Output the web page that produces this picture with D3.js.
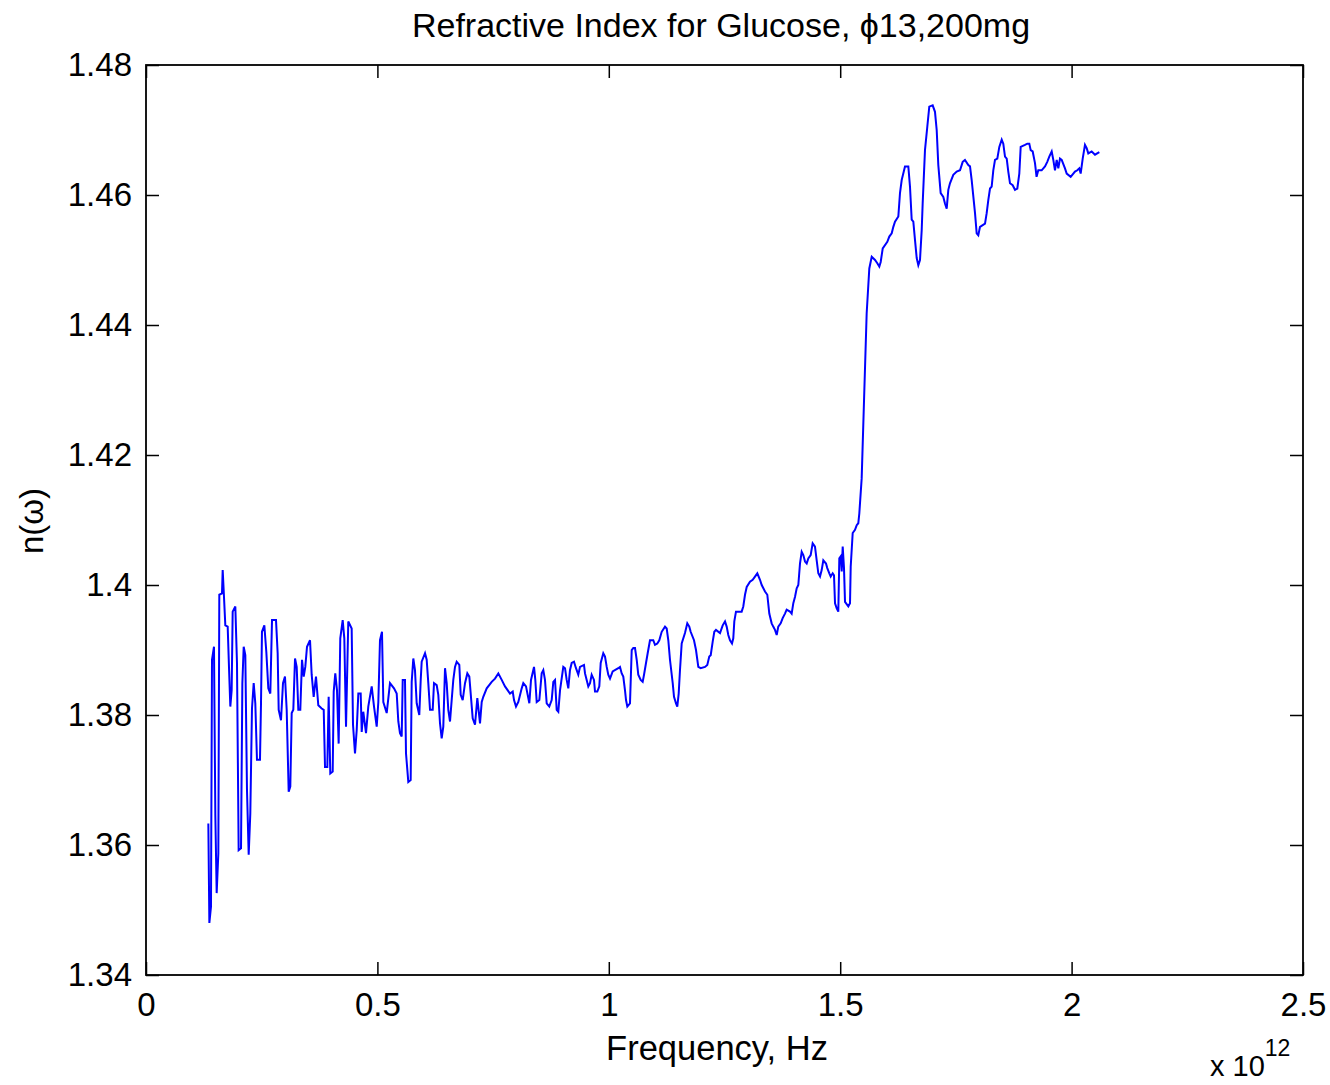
<!DOCTYPE html>
<html>
<head>
<meta charset="utf-8">
<script src="https://cdn.jsdelivr.net/npm/d3@7/dist/d3.min.js"></script>
<style>
  html, body { margin: 0; padding: 0; background: #ffffff; }
  svg { display: block; }
  text { font-family: "Liberation Sans", Arial, Helvetica, sans-serif; fill: #000; }
</style>
</head>
<body>
<svg id="chart" width="1330" height="1085"></svg>
<script>
// ---- Data (frequency in units of 1e12 Hz, refractive index n) ----
const freq = [
  0.1347,0.1369,0.1404,0.1426,0.1469,0.1498,0.1527,0.1563,0.1584,0.1642,
  0.1657,0.1685,0.1714,0.1765,0.1793,0.1822,0.1851,0.1873,0.1930,0.1966,
  0.2002,0.2053,0.2082,0.2111,0.2146,0.2182,0.2219,0.2254,0.2290,0.2327,
  0.2362,0.2398,0.2463,0.2485,0.2506,0.2557,0.2600,0.2643,0.2686,0.2723,
  0.2809,0.2845,0.2867,0.2917,0.2960,0.3003,0.3040,0.3083,0.3118,0.3148,
  0.3183,0.3220,0.3256,0.3291,0.3334,0.3371,0.3408,0.3442,0.3479,0.3544,
  0.3580,0.3623,0.3673,0.3723,0.3796,0.3840,0.3868,0.3918,0.3947,0.3982,
  0.4034,0.4056,0.4090,0.4127,0.4163,0.4198,0.4250,0.4285,0.4322,0.4371,
  0.4444,0.4473,0.4516,0.4553,0.4588,0.4639,0.4661,0.4695,0.4754,0.4803,
  0.4877,0.4927,0.4985,0.5020,0.5056,0.5099,0.5128,0.5201,0.5272,0.5359,
  0.5417,0.5452,0.5488,0.5525,0.5547,0.5596,0.5618,0.5668,0.5719,0.5741,
  0.5776,0.5812,0.5849,0.5905,0.5936,0.5957,0.6029,0.6065,0.6100,0.6137,
  0.6195,0.6223,0.6281,0.6316,0.6353,0.6389,0.6424,0.6461,0.6497,0.6532,
  0.6569,0.6605,0.6640,0.6677,0.6713,0.6770,0.6800,0.6843,0.6893,0.6943,
  0.6986,0.7016,0.7059,0.7109,0.7159,0.7217,0.7254,0.7288,0.7362,0.7470,
  0.7541,0.7613,0.7686,0.7757,0.7865,0.7924,0.7952,0.7995,0.8045,0.8118,
  0.8153,0.8211,0.8283,0.8319,0.8384,0.8412,0.8442,0.8499,0.8550,0.8585,
  0.8621,0.8658,0.8714,0.8766,0.8801,0.8838,0.8874,0.8909,0.8946,0.9017,
  0.9054,0.9090,0.9125,0.9161,0.9198,0.9248,0.9291,0.9341,0.9378,0.9464,
  0.9486,0.9522,0.9557,0.9594,0.9630,0.9680,0.9702,0.9752,0.9795,0.9825,
  0.9881,0.9918,0.9955,0.9989,1.0026,1.0084,1.0205,1.0242,1.0279,1.0313,
  1.0350,1.0372,1.0400,1.0458,1.0495,1.0529,1.0566,1.0603,1.0637,1.0689,
  1.0732,1.0761,1.0804,1.0840,1.0890,1.0961,1.0998,1.1048,1.1091,1.1143,
  1.1214,1.1251,1.1286,1.1322,1.1381,1.1409,1.1452,1.1480,1.1510,1.1538,
  1.1575,1.1646,1.1696,1.1739,1.1769,1.1841,1.1884,1.1934,1.1985,1.2079,
  1.2128,1.2171,1.2202,1.2245,1.2280,1.2316,1.2403,1.2461,1.2511,1.2547,
  1.2582,1.2619,1.2662,1.2690,1.2712,1.2748,1.2871,1.2906,1.2943,1.2980,
  1.3051,1.3109,1.3159,1.3209,1.3267,1.3304,1.3375,1.3425,1.3468,1.3519,
  1.3553,1.3591,1.3628,1.3662,1.3714,1.3757,1.3807,1.3843,1.3915,1.3951,
  1.3987,1.4024,1.4060,1.4095,1.4131,1.4168,1.4203,1.4240,1.4276,1.4311,
  1.4362,1.4405,1.4455,1.4492,1.4527,1.4564,1.4600,1.4635,1.4693,1.4721,
  1.4765,1.4795,1.4838,1.4866,1.4888,1.4925,1.4959,1.4981,1.5011,1.5033,
  1.5054,1.5082,1.5104,1.5175,1.5212,1.5227,1.5270,1.5320,1.5357,1.5391,
  1.5413,1.5464,1.5514,1.5572,1.5629,1.5681,1.5752,1.5802,1.5845,1.5875,
  1.5919,1.6018,1.6061,1.6113,1.6148,1.6184,1.6256,1.6292,1.6329,1.6400,
  1.6472,1.6508,1.6545,1.6580,1.6616,1.6653,1.6688,1.6724,1.6761,1.6782,
  1.6832,1.6882,1.6925,1.6998,1.7048,1.7085,1.7120,1.7171,1.7228,1.7264,
  1.7301,1.7336,1.7372,1.7444,1.7517,1.7589,1.7647,1.7696,1.7768,1.7805,
  1.7841,1.7913,1.7949,1.7984,1.8021,1.8129,1.8165,1.8200,1.8237,1.8273,
  1.8308,1.8345,1.8395,1.8438,1.8490,1.8524,1.8561,1.8598,1.8632,1.8669,
  1.8727,1.8777,1.8827,1.8870,1.8900,1.8993,1.9043,1.9086,1.9116,1.9159,
  1.9209,1.9243,1.9280,1.9353,1.9425,1.9474,1.9518,1.9570,1.9605,1.9641,
  1.9678,1.9713,1.9749,1.9786,1.9857,1.9894,1.9980,2.0073,2.0123,2.0166,
  2.0196,2.0240,2.0289,2.0326,2.0361,2.0434,2.0506,2.0599
];
const nIndex = [
  1.3633,1.3480,1.3505,1.3885,1.3905,1.3646,1.3526,1.3587,1.3985,1.3987,
  1.4023,1.3982,1.3938,1.3936,1.3874,1.3813,1.3838,1.3959,1.3967,1.3880,
  1.3592,1.3595,1.3849,1.3905,1.3892,1.3685,1.3585,1.3649,1.3810,1.3849,
  1.3818,1.3731,1.3731,1.3818,1.3928,1.3938,1.3897,1.3841,1.3833,1.3946,
  1.3946,1.3895,1.3808,1.3792,1.3849,1.3859,1.3808,1.3682,1.3690,1.3803,
  1.3808,1.3887,1.3874,1.3808,1.3808,1.3885,1.3859,1.3874,1.3905,1.3915,
  1.3862,1.3828,1.3859,1.3815,1.3810,1.3808,1.3720,1.3720,1.3828,1.3710,
  1.3713,1.3836,1.3864,1.3838,1.3756,1.3918,1.3946,1.3918,1.3782,1.3944,
  1.3933,1.3785,1.3741,1.3777,1.3833,1.3833,1.3774,1.3805,1.3772,1.3813,
  1.3844,1.3813,1.3782,1.3820,1.3915,1.3928,1.3820,1.3803,1.3849,1.3841,
  1.3833,1.3790,1.3772,1.3767,1.3854,1.3854,1.3741,1.3697,1.3700,1.3851,
  1.3887,1.3869,1.3818,1.3800,1.3854,1.3882,1.3895,1.3885,1.3849,1.3808,
  1.3808,1.3849,1.3846,1.3831,1.3787,1.3764,1.3782,1.3872,1.3849,1.3808,
  1.3790,1.3823,1.3854,1.3874,1.3882,1.3877,1.3831,1.3823,1.3849,1.3864,
  1.3859,1.3833,1.3795,1.3785,1.3826,1.3787,1.3820,1.3828,1.3841,1.3851,
  1.3856,1.3864,1.3854,1.3844,1.3833,1.3836,1.3823,1.3813,1.3820,1.3841,
  1.3849,1.3844,1.3818,1.3854,1.3874,1.3854,1.3820,1.3823,1.3864,1.3869,
  1.3854,1.3818,1.3813,1.3823,1.3851,1.3854,1.3808,1.3805,1.3838,1.3874,
  1.3872,1.3854,1.3841,1.3869,1.3880,1.3882,1.3872,1.3862,1.3874,1.3877,
  1.3864,1.3854,1.3844,1.3849,1.3862,1.3854,1.3836,1.3836,1.3844,1.3880,
  1.3895,1.3890,1.3874,1.3862,1.3856,1.3867,1.3872,1.3874,1.3864,1.3859,
  1.3838,1.3823,1.3813,1.3818,1.3900,1.3903,1.3903,1.3885,1.3862,1.3854,
  1.3851,1.3862,1.3880,1.3895,1.3915,1.3915,1.3908,1.3910,1.3915,1.3928,
  1.3936,1.3933,1.3915,1.3885,1.3849,1.3828,1.3818,1.3813,1.3833,1.3869,
  1.3910,1.3926,1.3941,1.3936,1.3928,1.3915,1.3900,1.3874,1.3872,1.3874,
  1.3877,1.3890,1.3892,1.3913,1.3928,1.3931,1.3926,1.3938,1.3944,1.3936,
  1.3923,1.3915,1.3910,1.3918,1.3944,1.3959,1.3959,1.3967,1.3985,1.3997,
  1.4005,1.4008,1.4013,1.4018,1.4008,1.4000,1.3990,1.3985,1.3956,1.3941,
  1.3936,1.3931,1.3923,1.3936,1.3941,1.3949,1.3956,1.3962,1.3959,1.3956,
  1.3972,1.3982,1.3995,1.4000,1.4033,1.4051,1.4046,1.4036,1.4033,1.4041,
  1.4046,1.4064,1.4059,1.4038,1.4018,1.4013,1.4023,1.4038,1.4033,1.4026,
  1.4018,1.4013,1.4018,1.4015,1.3972,1.3964,1.3959,1.4041,1.4044,1.4021,
  1.4059,1.4026,1.3974,1.3967,1.3972,1.4028,1.4080,1.4085,1.4092,1.4095,
  1.4110,1.4164,1.4282,1.4418,1.4487,1.4505,1.4500,1.4495,1.4490,1.4497,
  1.4518,1.4528,1.4536,1.4541,1.4551,1.4559,1.4567,1.4603,1.4623,1.4644,
  1.4644,1.4613,1.4562,1.4559,1.4531,1.4503,1.4492,1.4500,1.4546,1.4587,
  1.4669,1.4705,1.4736,1.4738,1.4728,1.4700,1.4646,1.4603,1.4597,1.4587,
  1.4579,1.4608,1.4618,1.4631,1.4636,1.4638,1.4651,1.4654,1.4646,1.4644,
  1.4623,1.4572,1.4541,1.4538,1.4551,1.4556,1.4572,1.4592,1.4610,1.4613,
  1.4638,1.4654,1.4656,1.4674,1.4685,1.4679,1.4659,1.4656,1.4636,1.4618,
  1.4615,1.4608,1.4610,1.4633,1.4674,1.4677,1.4679,1.4679,1.4669,1.4667,
  1.4649,1.4628,1.4638,1.4638,1.4644,1.4651,1.4659,1.4667,1.4654,1.4638,
  1.4654,1.4641,1.4656,1.4654,1.4641,1.4633,1.4628,1.4636,1.4638,1.4641,
  1.4633,1.4656,1.4677,1.4672,1.4664,1.4667,1.4662,1.4666
];
const xTicks = [0, 0.5, 1, 1.5, 2, 2.5];
const xTickLabels = ["0", "0.5", "1", "1.5", "2", "2.5"];
const yTicks = [1.34, 1.36, 1.38, 1.40, 1.42, 1.44, 1.46, 1.48];
const yTickLabels = ["1.34", "1.36", "1.38", "1.4", "1.42", "1.44", "1.46", "1.48"];
const titleText = "Refractive Index for Glucose, \u03D513,200mg";
const xLabelText = "Frequency, Hz";
const yLabelText = "n(\u03C9)";

// ---- Layout ----
const svg = d3.select("#chart");
const L = 146, R = 1303, T = 65, B = 975;
const fs = 33;
const x = d3.scaleLinear().domain([0, 2.5]).range([L, R]);
const y = d3.scaleLinear().domain([1.34, 1.48]).range([B, T]);

const data = d3.range(Math.min(freq.length, nIndex.length)).map(i => ({ f: freq[i], n: nIndex[i] }));

svg.append("rect").attr("x", 0).attr("y", 0).attr("width", 1330).attr("height", 1085).attr("fill", "#fff");

// data line
svg.append("path")
  .datum(data)
  .attr("fill", "none")
  .attr("stroke", "#0000ff")
  .attr("stroke-width", 2)
  .attr("stroke-linejoin", "miter")
  .attr("d", d3.line().x(d => x(d.f)).y(d => y(d.n)));

function styleAxis(g) {
  g.selectAll(".domain").remove();
  g.selectAll(".tick line").attr("stroke", "#000").attr("stroke-width", 1.5);
  g.selectAll(".tick text").style("font-size", fs + "px").attr("fill", "#000")
    .style("font-family", '"Liberation Sans", Arial, sans-serif');
}

const tick = 13;
svg.append("g").attr("transform", `translate(0,${B})`)
  .call(d3.axisBottom(x).tickValues(xTicks).tickFormat((d, i) => xTickLabels[i]).tickSizeInner(-tick).tickSizeOuter(0).tickPadding(18))
  .call(styleAxis);
svg.append("g").attr("transform", `translate(0,${T})`)
  .call(d3.axisTop(x).tickValues(xTicks).tickFormat("").tickSizeInner(-tick).tickSizeOuter(0))
  .call(styleAxis);
svg.append("g").attr("transform", `translate(${L},0)`)
  .call(d3.axisLeft(y).tickValues(yTicks).tickFormat((d, i) => yTickLabels[i]).tickSizeInner(-tick).tickSizeOuter(0).tickPadding(14))
  .call(styleAxis);
svg.append("g").attr("transform", `translate(${R},0)`)
  .call(d3.axisRight(y).tickValues(yTicks).tickFormat("").tickSizeInner(-tick).tickSizeOuter(0))
  .call(styleAxis);

// frame
svg.append("rect").attr("x", L).attr("y", T).attr("width", R - L).attr("height", B - T)
  .attr("fill", "none").attr("stroke", "#000").attr("stroke-width", 1.8);

// title
svg.append("text").attr("x", 721).attr("y", 37).attr("text-anchor", "middle")
  .style("font-size", "34px").text(titleText);

// x label
svg.append("text").attr("x", 717).attr("y", 1060).attr("text-anchor", "middle")
  .style("font-size", "34.5px").text(xLabelText);

// y label
svg.append("text").attr("transform", "translate(43,521) rotate(-90)").attr("text-anchor", "middle")
  .style("font-size", fs + "px").text(yLabelText);

// exponent
const ex = svg.append("text").attr("x", 1210).attr("y", 1076).style("font-size", "29px");
ex.append("tspan").text("x 10");
ex.append("tspan").attr("dy", -20).attr("dx", 0).style("font-size", "23px").text("12");
</script>
</body>
</html>
